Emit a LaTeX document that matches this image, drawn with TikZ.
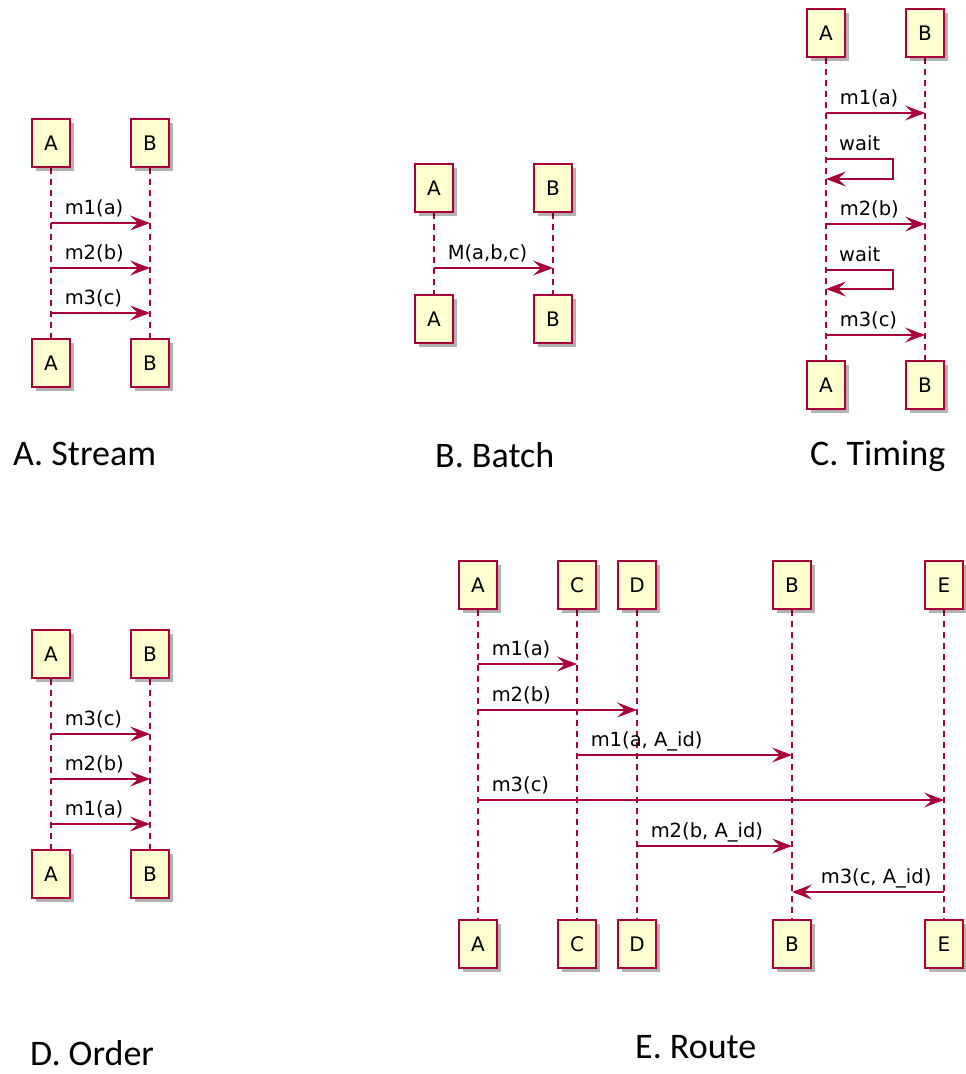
\documentclass[tikz,border=0pt]{standalone}
\usepackage{fontspec}
\usetikzlibrary{arrows.meta,shadows,backgrounds}
\newfontfamily\umlfont{DejaVu Sans}
\newfontfamily\titlefont{Carlito}
\definecolor{umlred}{HTML}{A80036}
\definecolor{umlyellow}{HTML}{FEFECE}
\tikzset{umltip/.tip={Stealth[length=20pt,width=15pt,inset=8pt]}}
\begin{document}
\begin{tikzpicture}[x=1pt,y=-1pt,
  part/.style={draw=umlred, fill=umlyellow, line width=1.9pt, minimum width=38pt,
    minimum height=48pt, inner sep=0pt, text=black,
    font=\umlfont\fontsize{20}{23}\selectfont,
    drop shadow={shadow xshift=4pt, shadow yshift=-4pt, fill=black, opacity=0.3}},
  life/.style={draw=umlred, line width=1.3pt, dash pattern=on 6pt off 5pt},
  msg/.style={draw=umlred, line width=1.5pt, -umltip},
  lbl/.style={font=\umlfont\fontsize{19.5}{23}\selectfont, text=black, inner sep=0pt, anchor=base west},
  ttl/.style={font=\titlefont\fontsize{36}{40}\selectfont, text=black, inner sep=0pt, anchor=base west}]
\useasboundingbox (0,0) rectangle (966,1074);

% ---------- A. Stream ----------
\node[part] (sA1) at (51,143) {A};
\node[part] (sB1) at (150,143) {B};
\node[part] (sA2) at (51,363) {A};
\node[part] (sB2) at (150,363) {B};
\begin{scope}[on background layer]
\draw[life] (sA1) -- (sA2);
\draw[life] (sB1) -- (sB2);
\end{scope}
\draw[msg] (sA1 |- 0,223) -- (sB1 |- 0,223) node[lbl,pos=0,xshift=13pt,yshift=9pt] {m1(a)};
\draw[msg] (sA1 |- 0,268) -- (sB1 |- 0,268) node[lbl,pos=0,xshift=13pt,yshift=9pt] {m2(b)};
\draw[msg] (sA1 |- 0,313) -- (sB1 |- 0,313) node[lbl,pos=0,xshift=13pt,yshift=9pt] {m3(c)};
\node[ttl] (tA) at (13,465) {A. Stream};

% ---------- B. Batch ----------
\node[part] (bA1) at (434,188) {A};
\node[part] (bB1) at (553,188) {B};
\node[part] (bA2) at (434,319) {A};
\node[part] (bB2) at (553,319) {B};
\begin{scope}[on background layer]
\draw[life] (bA1) -- (bA2);
\draw[life] (bB1) -- (bB2);
\end{scope}
\draw[msg] (bA1 |- 0,268) -- (bB1 |- 0,268) node[lbl,pos=0,xshift=13pt,yshift=9pt] {M(a,b,c)};
\node[ttl] (tB) at (435,467) {B. Batch};

% ---------- C. Timing ----------
\node[part] (cA1) at (826,33) {A};
\node[part] (cB1) at (925,33) {B};
\node[part] (cA2) at (826,385) {A};
\node[part] (cB2) at (925,385) {B};
\begin{scope}[on background layer]
\draw[life] (cA1) -- (cA2);
\draw[life] (cB1) -- (cB2);
\end{scope}
\draw[msg] (cA1 |- 0,113) -- (cB1 |- 0,113) node[lbl,pos=0,xshift=13pt,yshift=9pt] {m1(a)};
\coordinate (w1) at (893,159);
\draw[msg] (cA1 |- w1) -- (w1) -- (w1 |- 0,179) -- (cA1 |- 0,179);
\node[lbl] (w1l) at (839,150) {wait};
\draw[msg] (cA1 |- 0,224) -- (cB1 |- 0,224) node[lbl,pos=0,xshift=13pt,yshift=9pt] {m2(b)};
\coordinate (w2) at (893,270);
\draw[msg] (cA1 |- w2) -- (w2) -- (w2 |- 0,289) -- (cA1 |- 0,289);
\node[lbl] (w2l) at (839,261) {wait};
\draw[msg] (cA1 |- 0,335) -- (cB1 |- 0,335) node[lbl,pos=0,xshift=13pt,yshift=9pt] {m3(c)};
\node[ttl] (tC) at (810,465) {C. Timing};

% ---------- D. Order ----------
\node[part] (dA1) at (51,654) {A};
\node[part] (dB1) at (150,654) {B};
\node[part] (dA2) at (51,874) {A};
\node[part] (dB2) at (150,874) {B};
\begin{scope}[on background layer]
\draw[life] (dA1) -- (dA2);
\draw[life] (dB1) -- (dB2);
\end{scope}
\draw[msg] (dA1 |- 0,734) -- (dB1 |- 0,734) node[lbl,pos=0,xshift=13pt,yshift=9pt] {m3(c)};
\draw[msg] (dA1 |- 0,779) -- (dB1 |- 0,779) node[lbl,pos=0,xshift=13pt,yshift=9pt] {m2(b)};
\draw[msg] (dA1 |- 0,824) -- (dB1 |- 0,824) node[lbl,pos=0,xshift=13pt,yshift=9pt] {m1(a)};
\node[ttl] (tD) at (30,1065) {D. Order};

% ---------- E. Route ----------
\node[part] (eA1) at (478,585) {A};
\node[part] (eC1) at (577,585) {C};
\node[part] (eD1) at (637,585) {D};
\node[part] (eB1) at (792,585) {B};
\node[part] (eE1) at (944,585) {E};
\node[part] (eA2) at (478,944) {A};
\node[part] (eC2) at (577,944) {C};
\node[part] (eD2) at (637,944) {D};
\node[part] (eB2) at (792,944) {B};
\node[part] (eE2) at (944,944) {E};
\begin{scope}[on background layer]
\draw[life] (eA1) -- (eA2);
\draw[life] (eC1) -- (eC2);
\draw[life] (eD1) -- (eD2);
\draw[life] (eB1) -- (eB2);
\draw[life] (eE1) -- (eE2);
\end{scope}
\draw[msg] (eA1 |- 0,664) -- (eC1 |- 0,664) node[lbl,pos=0,xshift=13pt,yshift=9pt] {m1(a)};
\draw[msg] (eA1 |- 0,710) -- (eD1 |- 0,710) node[lbl,pos=0,xshift=13pt,yshift=9pt] {m2(b)};
\draw[msg] (eC1 |- 0,755) -- (eB1 |- 0,755) node[lbl,pos=0,xshift=13pt,yshift=9pt] {m1(a, A\_id)};
\draw[msg] (eA1 |- 0,800) -- (eE1 |- 0,800) node[lbl,pos=0,xshift=13pt,yshift=9pt] {m3(c)};
\draw[msg] (eD1 |- 0,846) -- (eB1 |- 0,846) node[lbl,pos=0,xshift=13pt,yshift=9pt] {m2(b, A\_id)};
\draw[msg] (eE1 |- 0,892) -- (eB1 |- 0,892) node[lbl,pos=1,xshift=28pt,yshift=9pt] {m3(c, A\_id)};
\node[ttl] (tE) at (635,1058) {E. Route};
\end{tikzpicture}
\end{document}
